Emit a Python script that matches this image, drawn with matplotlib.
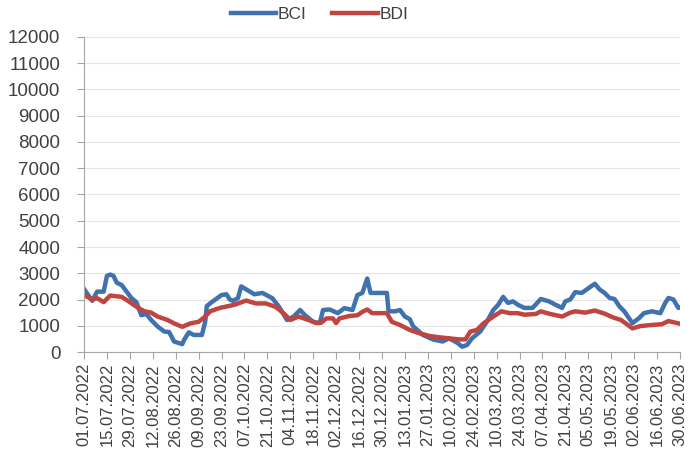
import numpy as np
import pandas as pd
import matplotlib
matplotlib.use("Agg")
import matplotlib.pyplot as plt
import matplotlib.dates as mdates

plt.rcParams['font.family'] = ['Liberation Sans', 'DejaVu Sans']

# Daten
bci_dates = ["01.07.2022", "06.07.2022", "09.07.2022", "13.07.2022", "15.07.2022", "17.07.2022",
             "19.07.2022", "21.07.2022", "24.07.2022", "27.07.2022", "30.07.2022", "02.08.2022",
             "05.08.2022", "08.08.2022", "11.08.2022", "15.08.2022", "19.08.2022", "22.08.2022",
             "25.08.2022", "30.08.2022", "31.08.2022", "03.09.2022", "06.09.2022", "11.09.2022",
             "13.09.2022", "14.09.2022", "17.09.2022", "23.09.2022", "26.09.2022", "28.09.2022",
             "30.09.2022", "03.10.2022", "05.10.2022", "09.10.2022", "13.10.2022", "18.10.2022",
             "24.10.2022", "28.10.2022", "02.11.2022", "06.11.2022", "10.11.2022", "13.11.2022",
             "18.11.2022", "22.11.2022", "24.11.2022", "28.11.2022", "03.12.2022", "07.12.2022",
             "12.12.2022", "15.12.2022", "18.12.2022", "21.12.2022", "23.12.2022", "02.01.2023",
             "03.01.2023", "07.01.2023", "10.01.2023", "13.01.2023", "16.01.2023", "18.01.2023",
             "24.01.2023", "30.01.2023", "05.02.2023", "09.02.2023", "14.02.2023", "17.02.2023",
             "20.02.2023", "23.02.2023", "28.02.2023", "04.03.2023", "08.03.2023", "11.03.2023",
             "14.03.2023", "17.03.2023", "20.03.2023", "23.03.2023", "27.03.2023", "01.04.2023",
             "06.04.2023", "11.04.2023", "15.04.2023", "19.04.2023", "21.04.2023", "24.04.2023",
             "27.04.2023", "01.05.2023", "04.05.2023", "09.05.2023", "12.05.2023", "15.05.2023",
             "18.05.2023", "21.05.2023", "24.05.2023", "27.05.2023", "01.06.2023", "05.06.2023",
             "08.06.2023", "13.06.2023", "18.06.2023", "21.06.2023", "23.06.2023", "26.06.2023",
             "29.06.2023", "30.06.2023"]
bci_values = [2400, 1950, 2300, 2300, 2900, 2950,
              2900, 2640, 2550, 2300, 2050, 1900,
              1400, 1450, 1220, 970, 780, 760,
              400, 300, 450, 750, 650, 650,
              1150, 1750, 1900, 2170, 2200, 2000,
              1950, 2050, 2500, 2350, 2200, 2250,
              2050, 1730, 1220, 1350, 1600, 1400,
              1150, 1100, 1600, 1620, 1480, 1670,
              1600, 2170, 2250, 2800, 2250, 2250,
              1550, 1550, 1600, 1350, 1250, 980,
              650, 480, 400, 520, 350, 200,
              270, 520, 780, 1150, 1600, 1800,
              2100, 1870, 1930, 1800, 1680, 1680,
              2020, 1930, 1800, 1680, 1930, 2000,
              2280, 2250, 2380, 2600, 2380, 2250,
              2060, 2020, 1740, 1550, 1100, 1290,
              1480, 1550, 1480, 1870, 2060, 2000,
              1680, 1700]

bdi_dates = ["01.07.2022", "06.07.2022", "09.07.2022", "13.07.2022", "17.07.2022", "24.07.2022",
             "29.07.2022", "03.08.2022", "07.08.2022", "11.08.2022", "15.08.2022", "21.08.2022",
             "25.08.2022", "30.08.2022", "04.09.2022", "09.09.2022", "13.09.2022", "16.09.2022",
             "22.09.2022", "01.10.2022", "08.10.2022", "14.10.2022", "20.10.2022", "26.10.2022",
             "31.10.2022", "04.11.2022", "09.11.2022", "15.11.2022", "20.11.2022", "23.11.2022",
             "26.11.2022", "30.11.2022", "02.12.2022", "04.12.2022", "10.12.2022", "15.12.2022",
             "18.12.2022", "21.12.2022", "24.12.2022", "02.01.2023", "05.01.2023", "10.01.2023",
             "16.01.2023", "22.01.2023", "28.01.2023", "03.02.2023", "09.02.2023", "15.02.2023",
             "19.02.2023", "22.02.2023", "26.02.2023", "02.03.2023", "08.03.2023", "13.03.2023",
             "18.03.2023", "23.03.2023", "27.03.2023", "03.04.2023", "06.04.2023", "11.04.2023",
             "19.04.2023", "24.04.2023", "27.04.2023", "03.05.2023", "09.05.2023", "15.05.2023",
             "20.05.2023", "25.05.2023", "01.06.2023", "06.06.2023", "13.06.2023", "19.06.2023",
             "23.06.2023", "29.06.2023", "30.06.2023"]
bdi_values = [2170, 2000, 2050, 1900, 2150, 2100,
              1900, 1680, 1550, 1500, 1350, 1220,
              1090, 960, 1090, 1150, 1350, 1550,
              1680, 1800, 1960, 1850, 1850, 1720,
              1470, 1220, 1350, 1220, 1100, 1120,
              1280, 1280, 1100, 1280, 1370, 1400,
              1530, 1620, 1480, 1480, 1150, 1030,
              840, 710, 610, 560, 520, 480,
              480, 780, 840, 1090, 1350, 1550,
              1480, 1480, 1420, 1450, 1550, 1460,
              1350, 1500, 1550, 1500, 1580, 1460,
              1320, 1220, 900, 990, 1030, 1060,
              1180, 1090, 1080]

start, end = "01.07.2022", "30.06.2023"

fmt = "%d.%m.%Y"
bci_x = pd.to_datetime(bci_dates, format=fmt)
bdi_x = pd.to_datetime(bdi_dates, format=fmt)
t0, t1 = pd.to_datetime(start, format=fmt), pd.to_datetime(end, format=fmt)
tick_dates = pd.date_range(t0, t1, freq="14D")  # Achsenbeschriftung alle 2 Wochen

fig = plt.figure(figsize=(6.91, 4.73), dpi=100)
ax = fig.add_axes([0.1216, 0.2558, 0.8624, 0.6660])

ax.plot(bci_x, bci_values, color="#3F72AF", lw=3.2, label="BCI", solid_joinstyle="round")
ax.plot(bdi_x, bdi_values, color="#C0443F", lw=3.2, label="BDI", solid_joinstyle="round")

ax.set_ylim(0, 12000)
ax.set_yticks(np.arange(0, 12001, 1000))
ax.set_xlim(t0, t1)
ax.set_xticks(tick_dates)
ax.xaxis.set_major_formatter(mdates.DateFormatter(fmt))
plt.setp(ax.get_xticklabels(), rotation=90)

ax.grid(True, axis="y", color="#E6E6E6", lw=0.8)
ax.set_axisbelow(True)
for s in ["top", "right"]:
    ax.spines[s].set_visible(False)
for s in ["left", "bottom"]:
    ax.spines[s].set_color("#A6A6A6")
ax.tick_params(axis="both", colors="#A6A6A6", labelcolor="#404040", length=5)
ax.tick_params(axis="y", labelsize=13.5, pad=12)
ax.tick_params(axis="x", labelsize=12, pad=3)

ax.legend(loc="upper center", bbox_to_anchor=(0.395, 1.145), ncol=2, frameon=False,
          fontsize=12.5, handlelength=2.6, columnspacing=1.5, handletextpad=0.1,
          labelcolor="#404040")

fig.savefig("out.png", dpi=100)
